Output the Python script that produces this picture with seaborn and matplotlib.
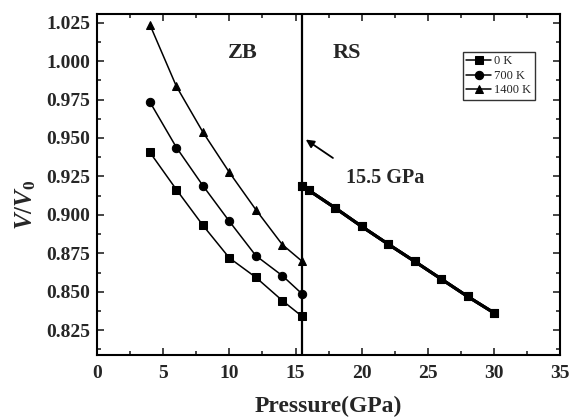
import matplotlib
matplotlib.use("Agg")
import matplotlib.pyplot as plt
import seaborn as sns
import pandas as pd
from matplotlib.ticker import MultipleLocator

# ZB phase data
p_zb = [4, 6, 8, 10, 12, 14, 15.5]
v_zb_0k = [0.9406, 0.9164, 0.8932, 0.8720, 0.8594, 0.8443, 0.8340]
v_zb_700k = [0.9733, 0.9438, 0.9190, 0.8958, 0.8735, 0.8605, 0.8486]
v_zb_1400k = [1.0235, 0.9835, 0.9538, 0.9276, 0.9034, 0.8807, 0.8698]

# RS phase data (curves coincide)
p_rs = [15.5, 16, 18, 20, 22, 24, 26, 28, 30]
v_rs = [0.9185, 0.9160, 0.9045, 0.8925, 0.8810, 0.8698, 0.8584, 0.8470, 0.8363]

labels = ["0 K", "700 K", "1400 K"]
markers = ["s", "o", "^"]
transition = 15.5

sns.set_style("ticks")
plt.rcParams['font.family'] = ['Liberation Serif', 'DejaVu Serif']
plt.rcParams['mathtext.fontset'] = 'custom'
plt.rcParams['mathtext.it'] = 'Liberation Serif:italic:bold'
plt.rcParams['mathtext.rm'] = 'Liberation Serif:bold'

fig = plt.figure(figsize=(5.71, 4.17), dpi=100)
ax = fig.add_axes([0.170, 0.149, 0.811, 0.817])

zb_series = [v_zb_0k, v_zb_700k, v_zb_1400k]
for lab, mk, vals in zip(labels, markers, zb_series):
    sns.lineplot(x=p_zb, y=vals, marker=mk, color="black", linewidth=1.1,
                 markersize=6, markeredgecolor="black", label=lab, ax=ax,
                 estimator=None, sort=False)

for k in range(3):
    sns.lineplot(x=p_rs, y=v_rs, marker="s", color="black", linewidth=2.2,
                 markersize=6, markeredgecolor="black", ax=ax,
                 estimator=None, sort=False, legend=False)

ax.axvline(transition, color="black", linewidth=1.6, zorder=5)

ax.set_xlim(0, 35)
ax.set_ylim(0.809, 1.0305)
ax.xaxis.set_major_locator(MultipleLocator(5))
ax.xaxis.set_minor_locator(MultipleLocator(2.5))
ax.yaxis.set_major_locator(MultipleLocator(0.025))
ax.yaxis.set_minor_locator(MultipleLocator(0.0125))
ax.tick_params(which="both", direction="in", top=True, right=True, width=1.2)
ax.tick_params(which="major", length=5, labelsize=14)
ax.tick_params(axis="y", which="major", pad=5)
ax.tick_params(axis="x", which="major", pad=7)
ax.tick_params(which="minor", length=3)
ax.yaxis.set_major_formatter(matplotlib.ticker.FormatStrFormatter('%.3f'))
for t in ax.get_xticklabels() + ax.get_yticklabels():
    t.set_fontweight("bold")
for s in ax.spines.values():
    s.set_linewidth(1.5)
    s.set_color("black")

ax.set_xlabel("Pressure(GPa)", fontsize=17, fontweight="bold")
ax.xaxis.set_label_coords(0.5, -0.12)
ax.set_ylabel(r"$V/V_{\mathrm{0}}$", fontsize=18)
ax.yaxis.set_label_coords(-0.128, 0.44)

ax.text(11.0, 1.005, "ZB", fontsize=16, fontweight="bold", ha="center", va="center")
ax.text(18.9, 1.005, "RS", fontsize=16, fontweight="bold", ha="center", va="center")
ax.annotate("", xy=(15.6, 0.950), xytext=(18.0, 0.936),
            arrowprops=dict(arrowstyle="-|>", color="black", lw=1.3, mutation_scale=12))
ax.text(21.8, 0.924, "15.5 GPa", fontsize=14.5, fontweight="bold", ha="center", va="center")

leg = ax.legend(loc="upper right", bbox_to_anchor=(0.945, 0.89), fontsize=9,
                frameon=True, fancybox=False, edgecolor="black", handlelength=2.0,
                borderpad=0.3, labelspacing=0.2, handletextpad=0.2, borderaxespad=0)
leg.get_frame().set_linewidth(1.0)

fig.savefig("out.png", dpi=100)
